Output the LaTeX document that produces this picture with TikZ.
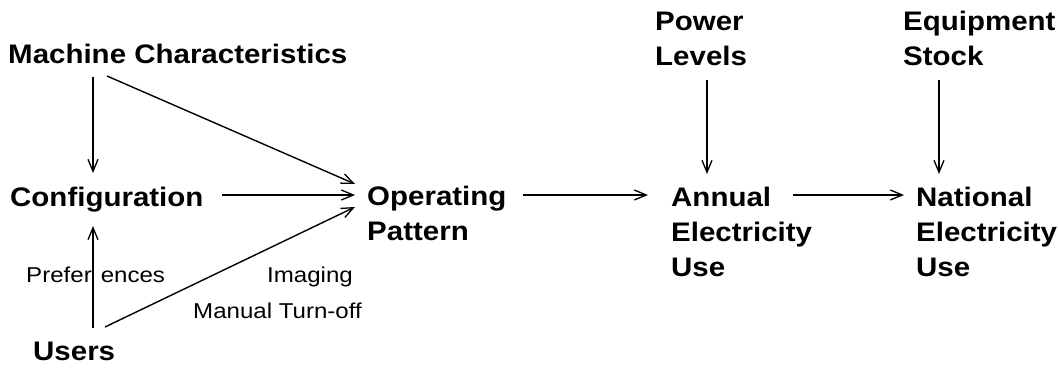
\documentclass[tikz,border=0pt]{standalone}
\usepackage{fontspec}
\usetikzlibrary{arrows.meta}
\newfontfamily\lbold{Liberation Sans Bold}[FakeStretch=1.1]
\newfontfamily\lreg{Liberation Sans}[FakeStretch=1.12]
\newcommand\stk[1]{\begin{tabular}[t]{@{}l@{}}#1\end{tabular}}
\tikzset{
  big/.style={anchor=base west, inner sep=0pt, font=\lbold\fontsize{26.8}{35}\selectfont},
  small/.style={anchor=base west, inner sep=0pt, font=\lreg\fontsize{21.5}{24}\selectfont},
  arr/.style={line width=1.4pt, -{Straight Barb[length=12pt,width=10pt,line width=1.3pt]}}
}
\begin{document}
\begin{tikzpicture}[x=1pt,y=-1pt]
\useasboundingbox[fill=white] (0,0) rectangle (1058,367);
\node[big] (mc) at (8,63) {Machine Characteristics};
\node[big] (cfg) at (10,206) {Configuration};
\node[big] (op) at (367,205) {\stk{Operating\\Pattern}};
\node[big] (ann) at (671,206) {\stk{Annual\\Electricity\\Use}};
\node[big] (nat) at (916,206) {\stk{National\\Electricity\\Use}};
\node[big] (pow) at (655,30) {\stk{Power\\Levels}};
\node[big] (eq) at (903,30) {\stk{Equipment\\Stock}};
\node[big] (us) at (33,360) {Users};
\node[small] (pref) at (26,282) {Prefer\hspace{9pt}ences};
\node[small] (img) at (267,282) {Imaging};
\node[small] (mto) at (193,318) {Manual Turn-off};

\draw[arr] ([shift={(85,14)}]mc.base west) -- ([shift={(83,-33)}]cfg.base west);
\draw[arr] ([shift={(99,13)}]mc.base west) -- ([shift={(-12,-21)}]op.base west);
\draw[arr] ([shift={(212,-11)}]cfg.base west) -- ([shift={(-12,-10)}]op.base west);
\draw[arr] ([shift={(72,-33)}]us.base west) -- ([shift={(-12,2)}]op.base west);
\draw[arr] ([shift={(60,-32)}]us.base west) -- ([shift={(83,20)}]cfg.base west);
\draw[arr] ([shift={(156,-10)}]op.base west) -- ([shift={(-23,-11)}]ann.base west);
\draw[arr] ([shift={(122,-11)}]ann.base west) -- ([shift={(-12,-11)}]nat.base west);
\draw[arr] ([shift={(52,50)}]pow.base west) -- ([shift={(36,-32)}]ann.base west);
\draw[arr] ([shift={(36,50)}]eq.base west) -- ([shift={(23,-32)}]nat.base west);
\end{tikzpicture}
\end{document}
